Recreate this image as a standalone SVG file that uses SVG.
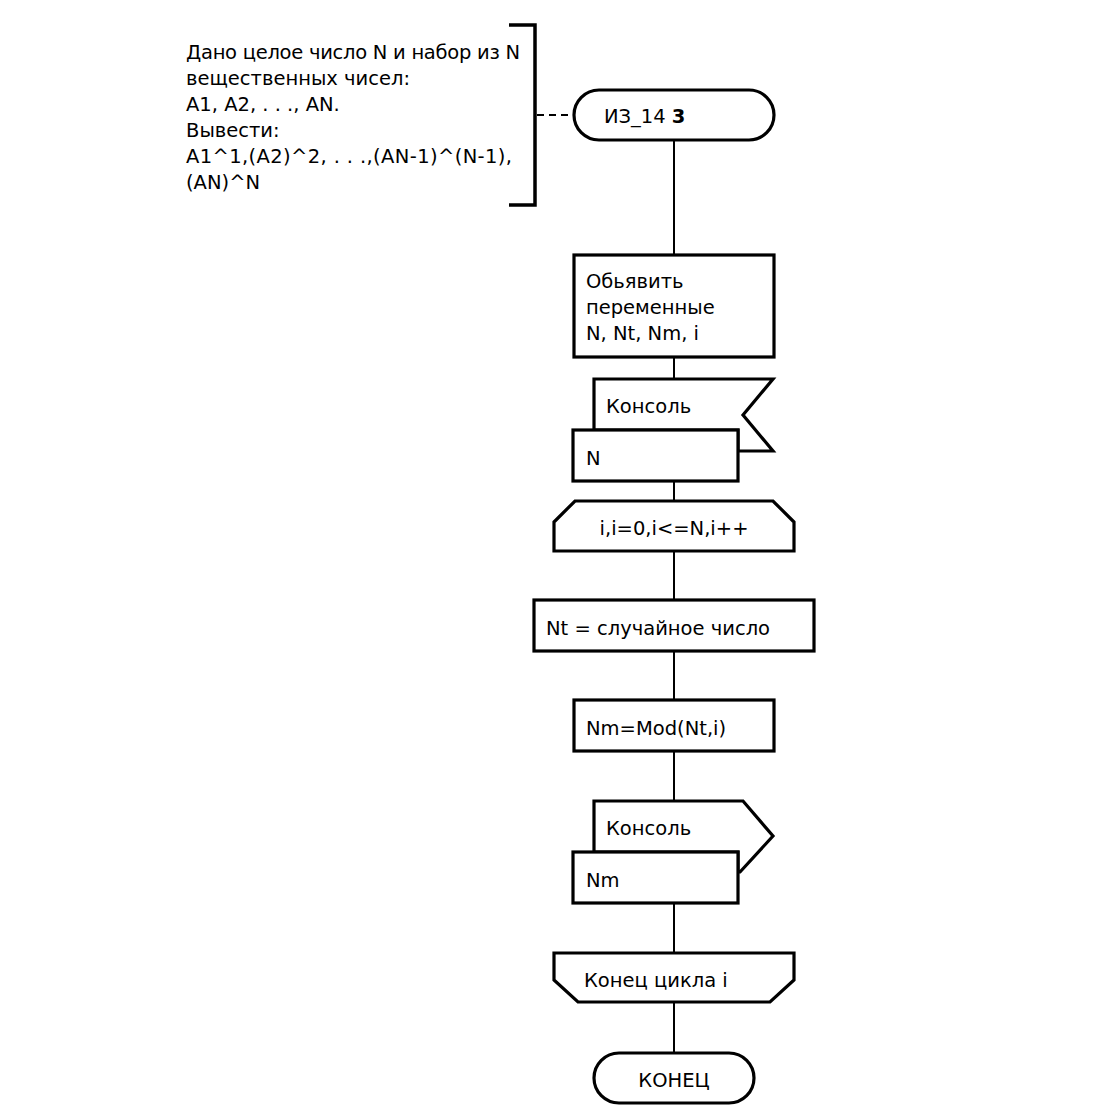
<svg xmlns="http://www.w3.org/2000/svg" width="1118" height="1117" viewBox="0 0 1118 1117">
<style>
.s{fill:#fff;stroke:#000;stroke-width:3.2;stroke-linejoin:miter}
.c{fill:none;stroke:#000;stroke-width:2}
text{font-family:"DejaVu Sans","Liberation Sans",sans-serif;font-size:19.5px;fill:#000}
.m{text-anchor:middle}
</style>
<rect width="1118" height="1117" fill="#fff"/>
<g id="connectors">
<line class="c" x1="674" y1="140" x2="674" y2="255"/>
<line class="c" x1="674" y1="357" x2="674" y2="379"/>
<line class="c" x1="674" y1="481" x2="674" y2="501"/>
<line class="c" x1="674" y1="551" x2="674" y2="600"/>
<line class="c" x1="674" y1="651" x2="674" y2="700"/>
<line class="c" x1="674" y1="751" x2="674" y2="801"/>
<line class="c" x1="674" y1="903" x2="674" y2="953"/>
<line class="c" x1="674" y1="1002" x2="674" y2="1053"/>
<line class="c" x1="537" y1="115" x2="573" y2="115" stroke-dasharray="7,5"/>
</g>
<g id="comment">
<polyline fill="none" stroke="#000" stroke-width="3.5" points="509,25 535,25 535,205 509,205"/>
<text x="186" y="59" textLength="334">Дано целое число N и набор из N</text>
<text x="186" y="85">вещественных чисел:</text>
<text x="186" y="111">A1, A2, . . ., AN.</text>
<text x="186" y="137">Вывести:</text>
<text x="186" y="163" textLength="326">A1^1,(A2)^2, . . .,(AN-1)^(N-1),</text>
<text x="186" y="189">(AN)^N</text>
</g>
<g id="start">
<rect class="s" x="574" y="90" width="200" height="50" rx="25"/>
<text x="604" y="123">ИЗ_14 <tspan font-weight="bold">3</tspan></text>
</g>
<g id="declare">
<rect class="s" x="574" y="255" width="200" height="102"/>
<text x="586" y="288">Обьявить</text>
<text x="586" y="314">переменные</text>
<text x="586" y="340">N, Nt, Nm, i</text>
</g>
<g id="input">
<polygon class="s" points="594,430 594,379 773,379 743,415 773,451 738,451 738,430"/>
<rect class="s" x="573" y="430" width="165" height="51"/>
<text x="606" y="413">Консоль</text>
<text x="586" y="465">N</text>
</g>
<g id="loopStart">
<polygon class="s" points="575,501 773,501 794,522 794,551 554,551 554,522"/>
<text class="m" x="674" y="535">i,i=0,i&lt;=N,i++</text>
</g>
<g id="random">
<rect class="s" x="534" y="600" width="280" height="51"/>
<text x="546" y="635">Nt = случайное число</text>
</g>
<g id="mod">
<rect class="s" x="574" y="700" width="200" height="51"/>
<text x="586" y="735">Nm=Mod(Nt,i)</text>
</g>
<g id="output">
<polygon class="s" points="594,852 594,801 743,801 773,836 740,872 738,872 738,852"/>
<rect class="s" x="573" y="852" width="165" height="51"/>
<text x="606" y="835">Консоль</text>
<text x="586" y="887">Nm</text>
</g>
<g id="loopEnd">
<polygon class="s" points="554,953 794,953 794,980 770,1002 578,1002 554,980"/>
<text x="584" y="987">Конец цикла i</text>
</g>
<g id="end">
<rect class="s" x="594" y="1053" width="160" height="50" rx="25"/>
<text class="m" x="674" y="1087">КОНЕЦ</text>
</g>
</svg>
